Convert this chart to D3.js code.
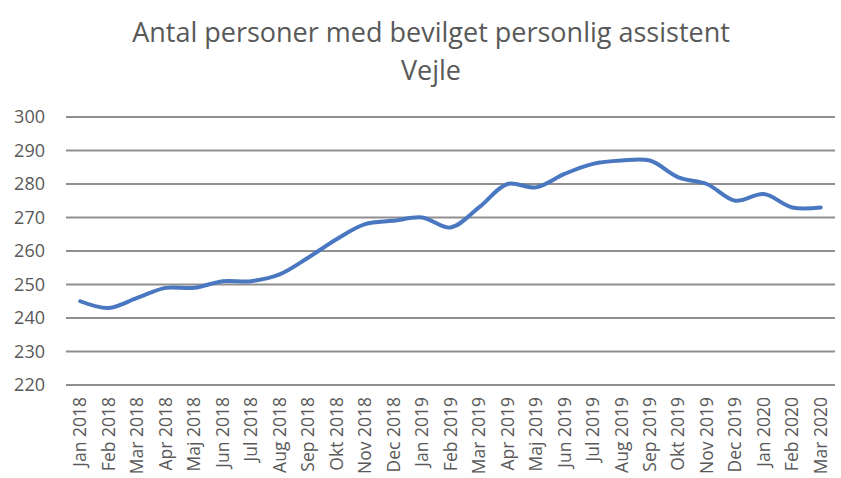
<!DOCTYPE html>
<html>
<head>
<meta charset="utf-8">
<script src="https://cdn.jsdelivr.net/npm/d3@7"></script>
<style>
  body { margin: 0; background: #fff; }
  text { font-family: "Open Sans", sans-serif; fill: #595959; }
</style>
</head>
<body>
<div id="container"></div>
<script>
/* CONSTANTS AND GLOBALS */
const width = 841,
  height = 478,
  margin = { top: 117, bottom: 93, left: 66, right: 6 };

/* DATA */
const months = ["Jan 2018", "Feb 2018", "Mar 2018", "Apr 2018", "Maj 2018", "Jun 2018",
  "Jul 2018", "Aug 2018", "Sep 2018", "Okt 2018", "Nov 2018", "Dec 2018",
  "Jan 2019", "Feb 2019", "Mar 2019", "Apr 2019", "Maj 2019", "Jun 2019",
  "Jul 2019", "Aug 2019", "Sep 2019", "Okt 2019", "Nov 2019", "Dec 2019",
  "Jan 2020", "Feb 2020", "Mar 2020"];
const persons = [245, 243, 246, 249, 249, 251, 251, 253, 258, 263.5, 268, 269,
  270, 267, 273, 280, 279, 283, 286, 287, 287, 282, 280, 275, 277, 273, 273];
const yTicks = [220, 230, 240, 250, 260, 270, 280, 290, 300];
const titleLines = ["Antal personer med bevilget personlig assistent", "Vejle"];

const data = months.map((m, i) => ({ month: m, value: persons[i] }));

/* SCALES */
const xScale = d3.scaleBand()
  .domain(months)
  .range([margin.left, width - margin.right]);

const yScale = d3.scaleLinear()
  .domain([220, 300])
  .range([height - margin.bottom, margin.top]);

/* SVG */
const svg = d3.select("#container")
  .append("svg")
  .attr("width", width)
  .attr("height", height);

// title
svg.selectAll("text.title")
  .data(titleLines)
  .join("text")
  .attr("class", "title")
  .attr("x", 431)
  .attr("y", (d, i) => 42 + i * 38)
  .attr("text-anchor", "middle")
  .style("font-size", "27px")
  .text(d => d);

// gridlines
svg.append("g")
  .selectAll("line")
  .data(yTicks)
  .join("line")
  .attr("x1", margin.left)
  .attr("x2", width - margin.right)
  .attr("y1", d => yScale(d))
  .attr("y2", d => yScale(d))
  .attr("stroke", "#8f8f8f")
  .attr("stroke-width", 2);

// y axis labels
const yAxis = d3.axisLeft(yScale).tickValues(yTicks).tickSize(0).tickPadding(0);
svg.append("g")
  .attr("transform", `translate(${margin.left - 21},0)`)
  .call(yAxis)
  .call(g => g.select(".domain").remove())
  .selectAll("text")
  .style("font-size", "18px")
  .attr("fill", "#595959");

// x axis labels
const xAxis = d3.axisBottom(xScale).tickSize(0).tickPadding(0);
svg.append("g")
  .attr("transform", `translate(0,${height - margin.bottom})`)
  .call(xAxis)
  .call(g => g.select(".domain").remove())
  .selectAll("text")
  .attr("transform", "rotate(-90)")
  .attr("text-anchor", "end")
  .attr("x", -12)
  .attr("y", 0)
  .attr("dy", "0.35em")
  .style("font-size", "17.5px")
  .attr("fill", "#595959");

// line
const line = d3.line()
  .x(d => xScale(d.month) + xScale.bandwidth() / 2)
  .y(d => yScale(d.value))
  .curve(d3.curveCatmullRom.alpha(0.5));

svg.append("path")
  .datum(data)
  .attr("d", line)
  .attr("fill", "none")
  .attr("stroke", "#4a78c0")
  .attr("stroke-width", 4)
  .attr("stroke-linecap", "round");
</script>
</body>
</html>
